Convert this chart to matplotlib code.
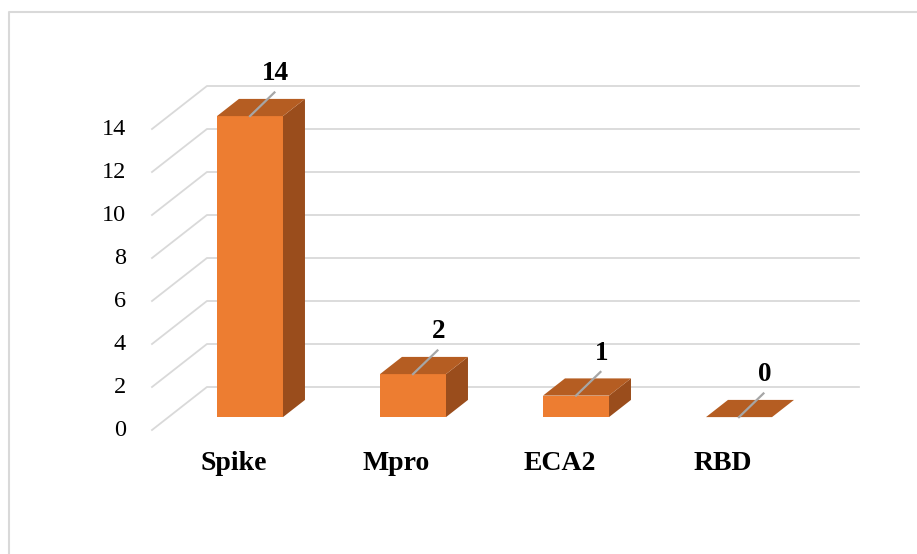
import matplotlib.pyplot as plt
from matplotlib.patches import Polygon

categories = ["Spike", "Mpro", "ECA2", "RBD"]
values = [14, 2, 1, 0]
yticks = [0, 2, 4, 6, 8, 10, 12, 14]

# 3D look: depth offset of the floor (in data units)
DX, DY = 0.337, 2.0
BAR_W = 0.405
D0, D1 = 0.3, 0.7   # bar sits between these depth fractions

FRONT = "#ED7D31"
TOP = "#B55D22"
SIDE = "#9A4D1C"
GRID = "#D9D9D9"

plt.rcParams['font.family'] = ['Liberation Serif', 'DejaVu Serif']

fig = plt.figure(figsize=(9.17, 5.54), dpi=100)
ax = fig.add_axes([0, 0, 1, 1])
ax.set_xlim(-1.4325, 4.193)
ax.set_ylim(-5.767, 20.0)
ax.axis("off")

# outer frame (left and top only, like the screenshot)
ax.plot([9 / 917, 9 / 917, 1.0], [0, 1 - 11.5 / 554, 1 - 11.5 / 554],
        transform=ax.transAxes, color="#D9D9D9", lw=1.5, clip_on=False)

# floor edge and back wall gridlines
x0 = -0.5
x1 = len(categories) - 0.5
for v in yticks:
    ax.plot([x0, x0 + DX, x1 + DX], [v, v + DY, v + DY], color=GRID, lw=1.3, zorder=1)
    ax.text(x0 - 0.16, v, str(v), ha="right", va="center", fontsize=17.5, color="#000000")

# bars
for i, (cat, val) in enumerate(zip(categories, values)):
    fx = i + D0 * DX            # front face centre x
    fy = D0 * DY                # front face bottom y
    ddx = (D1 - D0) * DX
    ddy = (D1 - D0) * DY
    l, r = fx - BAR_W / 2, fx + BAR_W / 2
    b, t = fy, fy + val
    if val > 0:
        ax.add_patch(Polygon([(l, b), (r, b), (r, t), (l, t)], closed=True,
                             facecolor=FRONT, edgecolor="none", zorder=3))
        ax.add_patch(Polygon([(r, b), (r + ddx, b + ddy), (r + ddx, t + ddy), (r, t)],
                             closed=True, facecolor=SIDE, edgecolor="none", zorder=3))
    ax.add_patch(Polygon([(l, t), (r, t), (r + ddx, t + ddy), (l + ddx, t + ddy)],
                         closed=True, facecolor=TOP, edgecolor="none", zorder=3))

    # leader line and value label
    ex, ey = fx + 0.15, t + 1.1
    ax.plot([fx, ex], [t, ey], color="#A6A6A6", lw=1.6, zorder=4)
    ax.text(ex + 0.005, ey + 0.88, str(val), ha="center", va="center",
            fontsize=19.5, fontweight="bold", zorder=5)

    ax.text(i, -1.58, cat, ha="center", va="center", fontsize=20, fontweight="bold")

fig.savefig("out.png", dpi=100)
